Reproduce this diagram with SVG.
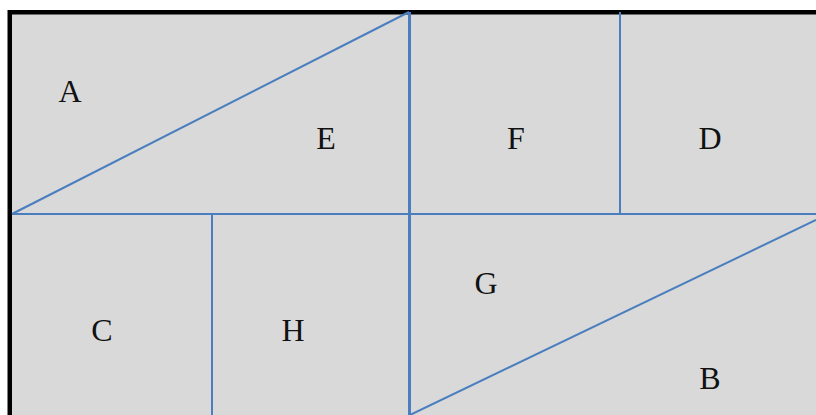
<svg xmlns="http://www.w3.org/2000/svg" width="816" height="415" viewBox="0 0 816 415">
<style>
.ln{stroke:#4a7ebf;stroke-width:2;fill:none}
.lbl{font-family:"Liberation Serif","DejaVu Serif",serif;font-size:32px;fill:#111;text-anchor:middle}
</style>
<rect x="0" y="0" width="816" height="415" fill="#ffffff"/>
<rect id="frame" x="9.75" y="12.25" width="830" height="430" fill="#d9d9d9" stroke="#000" stroke-width="4.5"/>
<g id="connectors">
<line class="ln" x1="12" y1="214" x2="816" y2="214"/>
<line class="ln" x1="409.5" y1="12" x2="409.5" y2="415" style="stroke-width:3"/>
<line class="ln" x1="620" y1="12" x2="620" y2="214"/>
<line class="ln" x1="212" y1="214" x2="212" y2="415"/>
<line class="ln" x1="12" y1="214" x2="409" y2="12"/>
<line class="ln" x1="410" y1="415" x2="816" y2="220"/>
</g>
<g id="A"><text class="lbl" x="70" y="102">A</text></g>
<g id="E"><text class="lbl" x="326" y="149">E</text></g>
<g id="F"><text class="lbl" x="516" y="149">F</text></g>
<g id="D"><text class="lbl" x="710" y="149">D</text></g>
<g id="G"><text class="lbl" x="486" y="294">G</text></g>
<g id="C"><text class="lbl" x="102" y="341">C</text></g>
<g id="H"><text class="lbl" x="293" y="341">H</text></g>
<g id="B"><text class="lbl" x="710" y="389">B</text></g>
</svg>
